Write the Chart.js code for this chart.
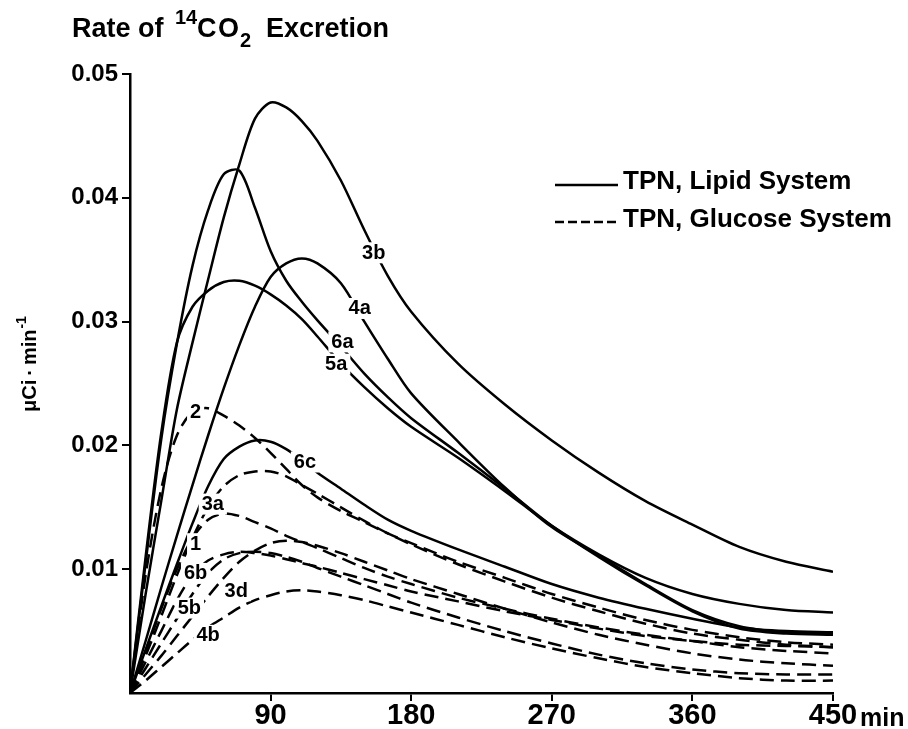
<!DOCTYPE html>
<html><head><meta charset="utf-8">
<script src="https://cdn.jsdelivr.net/npm/chart.js@4"></script>
<style>html,body{margin:0;padding:0;background:#fff}#wrap{width:908px;height:729px}</style>
</head><body><div id="wrap"><canvas id="c" width="908" height="729"></canvas></div>
<script>
// ---- data (time in min, rate in µCi·min⁻¹) ----
const times = [0,10,20,30,40,50,60,70,80,90,100,110,120,135,150,165,180,210,240,270,300,330,360,390,420,450];

// TPN, Lipid System (solid)
const lipid3b = [0,0.0080,0.0155,0.0229,0.0283,0.0334,0.0384,0.0427,0.0464,0.0477,0.0473,0.0462,0.0446,0.0414,0.0374,0.0337,0.0308,0.0266,0.0233,0.0204,0.0178,0.0155,0.0136,0.0118,0.0106,0.0098];
const lipid4a = [0,0.0042,0.0085,0.0127,0.0168,0.0208,0.0246,0.0281,0.0312,0.0336,0.0347,0.0351,0.0347,0.0331,0.0300,0.0270,0.0242,0.0203,0.0166,0.0134,0.0111,0.0088,0.0067,0.0054,0.0049,0.0048];
const lipid6a = [0,0.0105,0.0205,0.0282,0.0345,0.0390,0.0419,0.0422,0.0392,0.0357,0.0333,0.0316,0.0301,0.0280,0.0258,0.0239,0.0222,0.0194,0.0165,0.0135,0.0110,0.0087,0.0066,0.0052,0.0048,0.0047];
const lipid5a = [0,0.0110,0.0210,0.0283,0.0312,0.0325,0.0332,0.0333,0.0329,0.0322,0.0313,0.0302,0.0288,0.0266,0.0247,0.0230,0.0215,0.0190,0.0163,0.0135,0.0112,0.0093,0.0080,0.0072,0.0067,0.0065];
const lipid6c = [0,0.0035,0.0070,0.0104,0.0137,0.0167,0.0189,0.0199,0.0204,0.0203,0.0197,0.0188,0.0178,0.0165,0.0152,0.0140,0.0131,0.0116,0.0102,0.0088,0.0077,0.0068,0.0060,0.0053,0.0050,0.0049];

// TPN, Glucose System (dashed)
const gluc2  = [0,0.0095,0.0165,0.0208,0.0227,0.0230,0.0224,0.0216,0.0206,0.0194,0.0181,0.0168,0.0158,0.0147,0.0138,0.0129,0.0121,0.0106,0.0093,0.0080,0.0069,0.0059,0.0051,0.0045,0.0041,0.0039];
const gluc3a = [0,0.0030,0.0062,0.0095,0.0125,0.0150,0.0167,0.0176,0.0179,0.0179,0.0175,0.0168,0.0161,0.0150,0.0139,0.0129,0.0120,0.0104,0.0090,0.0077,0.0066,0.0056,0.0048,0.0043,0.0039,0.0037];
const gluc1  = [0,0.0033,0.0068,0.0100,0.0125,0.0140,0.0145,0.0143,0.0138,0.0133,0.0127,0.0122,0.0117,0.0109,0.0101,0.0094,0.0088,0.0077,0.0068,0.0060,0.0053,0.0047,0.0042,0.0037,0.0034,0.0032];
const gluc6b = [0,0.0025,0.0050,0.0075,0.0095,0.0107,0.0112,0.0114,0.0113,0.0111,0.0108,0.0105,0.0102,0.0097,0.0092,0.0087,0.0082,0.0074,0.0066,0.0059,0.0052,0.0046,0.0042,0.0039,0.0038,0.0037];
const gluc3d = [0,0.0015,0.0030,0.0046,0.0062,0.0078,0.0093,0.0106,0.0115,0.0121,0.0123,0.0122,0.0119,0.0113,0.0106,0.0099,0.0092,0.0080,0.0068,0.0057,0.0047,0.0039,0.0032,0.0027,0.0024,0.0022];
const gluc5b = [0,0.0020,0.0040,0.0060,0.0080,0.0097,0.0108,0.0113,0.0114,0.0113,0.0110,0.0106,0.0101,0.0094,0.0087,0.0080,0.0073,0.0061,0.0050,0.0040,0.0031,0.0024,0.0019,0.0016,0.0015,0.0015];
const gluc4b = [0,0.0010,0.0021,0.0032,0.0043,0.0053,0.0061,0.0069,0.0075,0.0079,0.0082,0.0083,0.0082,0.0079,0.0075,0.0070,0.0065,0.0055,0.0045,0.0036,0.0028,0.0021,0.0016,0.0012,0.0010,0.0010];

// curve labels (anchored in data coordinates: time, rate)
const curveLabels = ['3b','4a','6a','5a','2','6c','3a','1','6b','3d','5b','4b'];
const labelTime  = [156,147,136,132,42,112,53,42,42,68,38,50];
const labelRate  = [0.0356,0.0311,0.0284,0.0266,0.0227,0.0187,0.0153,0.0121,0.0097,0.0083,0.0069,0.0047];

const xTickValues = [90,180,270,360,450];
const yTickValues = [0.01,0.02,0.03,0.04,0.05];
const titleParts = ['Rate of','14','CO','2','Excretion'];
const yTitleParts = ['\u03bcCi\u2009\u00b7\u2009min','-1'];
const legendLabels = ['TPN, Lipid System','TPN, Glucose System'];
const xUnit = 'min';

const FONT = '"Liberation Sans", Arial, Helvetica, sans-serif';
const DASH = [14,7];

const series = [
  {name:'3b', v:lipid3b, solid:true},
  {name:'4a', v:lipid4a, solid:true},
  {name:'6a', v:lipid6a, solid:true},
  {name:'5a', v:lipid5a, solid:true},
  {name:'6c', v:lipid6c, solid:true},
  {name:'2',  v:gluc2,  solid:false},
  {name:'3a', v:gluc3a, solid:false},
  {name:'1',  v:gluc1,  solid:false},
  {name:'6b', v:gluc6b, solid:false},
  {name:'3d', v:gluc3d, solid:false},
  {name:'5b', v:gluc5b, solid:false},
  {name:'4b', v:gluc4b, solid:false},
];

const datasets = series.map(s => ({
  label: s.name,
  data: times.map((t,i) => ({x:t, y:s.v[i]})),
  borderColor: '#000',
  borderWidth: 2.5,
  borderDash: s.solid ? [] : DASH,
  pointRadius: 0,
  fill: false,
  tension: 0.3
}));

const decor = {
  id: 'decor',
  afterDraw(chart) {
    const ctx = chart.ctx, xs = chart.scales.x, ys = chart.scales.y;
    ctx.save();
    ctx.fillStyle = '#000'; ctx.strokeStyle = '#000';
    // title with superscript / subscript
    ctx.textBaseline = 'alphabetic'; ctx.textAlign = 'left';
    const tX = [72,175,197,240,266], tS = [27,20,27,20,27], tY = [37,24,37,47,37];
    titleParts.forEach((t,i) => {
      ctx.font = 'bold ' + tS[i] + 'px ' + FONT;
      ctx.letterSpacing = (i === 2 ? '1.5px' : '0px');
      ctx.fillText(t, tX[i], tY[i]);
    });
    ctx.letterSpacing = '0px';
    // y-axis title, rotated
    ctx.save();
    ctx.translate(36, 412); ctx.rotate(-Math.PI/2);
    ctx.font = 'bold 20px ' + FONT;
    ctx.fillText(yTitleParts[0], 0, 0);
    const w0 = ctx.measureText(yTitleParts[0]).width;
    ctx.font = 'bold 14px ' + FONT;
    ctx.fillText(yTitleParts[1], w0 + 1, -10);
    ctx.restore();
    // unit after last x tick
    ctx.font = 'bold 25px ' + FONT;
    ctx.textBaseline = 'alphabetic';
    ctx.fillText(xUnit, xs.getPixelForValue(xTickValues[xTickValues.length-1]) + 27, 726);
    // legend
    ctx.font = 'bold 26px ' + FONT;
    const rows = [{y:185, base:189, dash:[]},{y:222, base:227, dash:[9,4]}];
    rows.forEach((r,i) => {
      ctx.beginPath(); ctx.setLineDash(r.dash); ctx.lineWidth = 2.5;
      ctx.moveTo(555, r.y); ctx.lineTo(618, r.y); ctx.stroke();
      ctx.setLineDash([]);
      ctx.fillText(legendLabels[i], 623, r.base);
    });
    // curve labels with white knock-out
    ctx.font = 'bold 20px ' + FONT;
    ctx.textAlign = 'center'; ctx.textBaseline = 'middle';
    curveLabels.forEach((lab,i) => {
      const px = xs.getPixelForValue(labelTime[i]);
      const py = ys.getPixelForValue(labelRate[i]);
      const w = ctx.measureText(lab).width;
      ctx.fillStyle = '#fff';
      ctx.fillRect(px - w/2 - 3, py - 10, w + 6, 21);
      ctx.fillStyle = '#000';
      ctx.fillText(lab, px, py + 1);
    });
    ctx.restore();
  }
};

new Chart(document.getElementById('c'), {
  type: 'line',
  data: { datasets },
  plugins: [decor],
  options: {
    responsive: false,
    devicePixelRatio: 1,
    animation: false,
    layout: { padding: { left: 0, right: 75, top: 74, bottom: 0 } },
    plugins: { legend: {display:false}, title: {display:false}, tooltip: {enabled:false} },
    scales: {
      x: {
        type: 'linear', min: 0, max: 450,
        afterBuildTicks: s => { s.ticks = xTickValues.map(v => ({value:v})); },
        afterFit: s => { s.height = 36; },
        border: { display: true, color: '#000', width: 2.5 },
        grid: { drawOnChartArea: false, drawTicks: true, tickLength: 8, color: '#000', lineWidth: 2 },
        ticks: { color: '#000', font: { family: FONT, size: 29, weight: 'bold' }, padding: -2, maxRotation: 0, autoSkip: false,
                 callback: v => String(v) }
      },
      y: {
        type: 'linear', min: 0, max: 0.05,
        afterBuildTicks: s => { s.ticks = yTickValues.map(v => ({value:v})); },
        afterFit: s => { s.width = 130; },
        border: { display: true, color: '#000', width: 2.5 },
        grid: { drawOnChartArea: false, drawTicks: true, tickLength: 8, color: '#000', lineWidth: 2 },
        ticks: { color: '#000', font: { family: FONT, size: 24, weight: 'bold' }, padding: 4, autoSkip: false,
                 callback: v => v.toFixed(2) }
      }
    }
  }
});
</script>
</body></html>
